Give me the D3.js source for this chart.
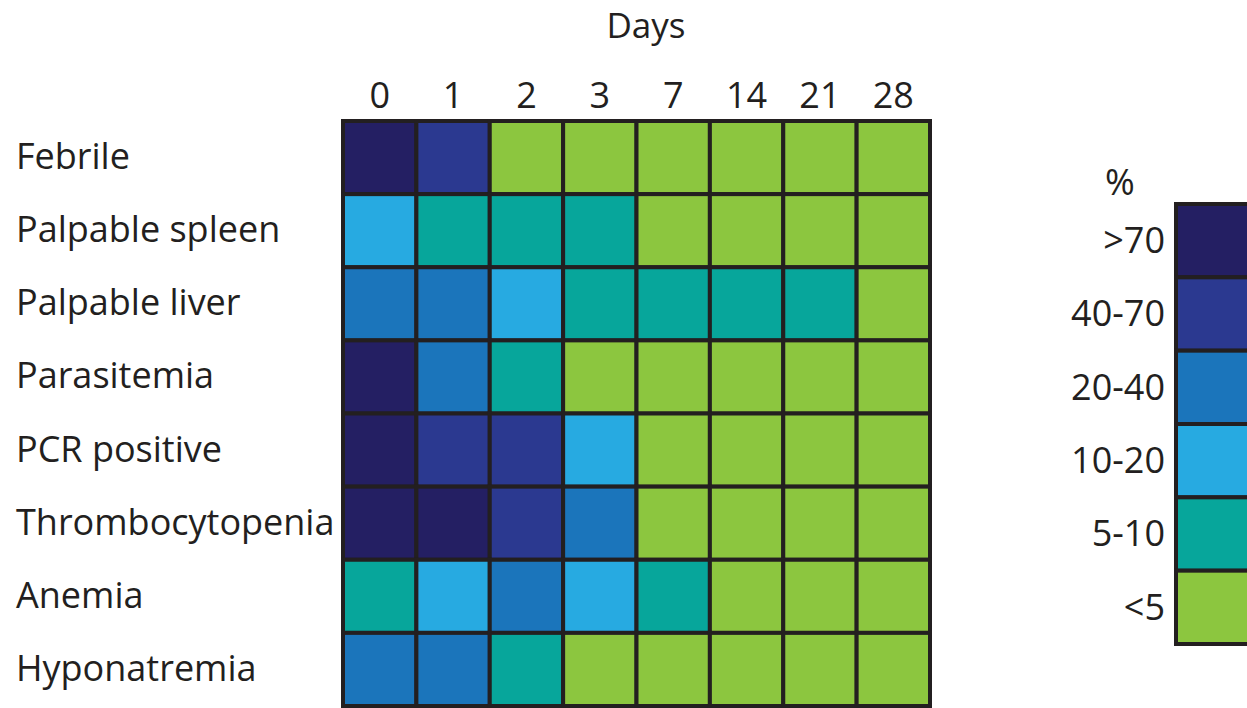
<!DOCTYPE html>
<html>
<head>
<meta charset="utf-8">
<script src="https://cdn.jsdelivr.net/npm/d3@7"></script>
<style>
  body { margin: 0; background: #fff; }
  svg text { font-family: "Open Sans", "Noto Sans", sans-serif; fill: #231f20; }
</style>
</head>
<body>
<div id="heat"></div>
<script>
// days on the x axis, symptoms on the y axis
const days = ["0", "1", "2", "3", "7", "14", "21", "28"];
const symptoms = ["Febrile", "Palpable spleen", "Palpable liver", "Parasitemia",
                  "PCR positive", "Thrombocytopenia", "Anemia", "Hyponatremia"];

// legend classes, from highest to lowest
const classes = [">70", "40-70", "20-40", "10-20", "5-10", "<5"];
const classColors = ["#241f63", "#2b3990", "#1b75bb", "#27aae1", "#07a69b", "#8cc63f"];

// one row per symptom, the class each day falls in
const febrile      = [">70", "40-70", "<5", "<5", "<5", "<5", "<5", "<5"];
const spleen       = ["10-20", "5-10", "5-10", "5-10", "<5", "<5", "<5", "<5"];
const liver        = ["20-40", "20-40", "10-20", "5-10", "5-10", "5-10", "5-10", "<5"];
const parasitemia  = [">70", "20-40", "5-10", "<5", "<5", "<5", "<5", "<5"];
const pcr          = [">70", "40-70", "40-70", "10-20", "<5", "<5", "<5", "<5"];
const thrombo      = [">70", ">70", "40-70", "20-40", "<5", "<5", "<5", "<5"];
const anemia       = ["5-10", "10-20", "20-40", "10-20", "5-10", "<5", "<5", "<5"];
const hyponatremia = ["20-40", "20-40", "5-10", "<5", "<5", "<5", "<5", "<5"];

const rows = [febrile, spleen, liver, parasitemia, pcr, thrombo, anemia, hyponatremia];

function init() {
    const width = 1247, height = 708;

    const svg = d3.select("#heat")
                  .append("svg")
                  .attr("width", width)
                  .attr("height", height);

    const x = d3.scaleBand().domain(days).range([343, 930]);
    const y = d3.scaleBand().domain(symptoms).range([121, 706]);
    const color = d3.scaleOrdinal().domain(classes).range(classColors);

    // flatten the rows into cells
    const cells = [];
    symptoms.forEach((s, i) => {
        days.forEach((d, j) => cells.push({ symptom: s, day: d, cls: rows[i][j] }));
    });

    svg.selectAll("rect.cell")
       .data(cells)
       .join("rect")
       .attr("class", "cell")
       .attr("x", d => x(d.day))
       .attr("y", d => y(d.symptom))
       .attr("width", x.bandwidth())
       .attr("height", y.bandwidth())
       .attr("fill", d => color(d.cls))
       .attr("stroke", "#231f20")
       .attr("stroke-width", 4);

    // day labels on top
    const xAxis = svg.append("g")
       .attr("transform", "translate(0,108)")
       .call(d3.axisTop(x).tickSize(0).tickPadding(0));
    xAxis.select(".domain").remove();
    xAxis.selectAll("text").style("font-size", "36px").attr("fill", "#231f20");

    svg.append("text")
       .attr("x", 646)
       .attr("y", 38)
       .attr("text-anchor", "middle")
       .style("font-size", "35px")
       .text("Days");

    // symptom labels, left aligned
    const yAxis = svg.append("g")
       .call(d3.axisLeft(y).tickSize(0));
    yAxis.select(".domain").remove();
    yAxis.selectAll("text")
         .attr("x", 16)
         .attr("text-anchor", "start")
         .attr("fill", "#231f20")
         .style("font-size", "36px");

    // legend
    const ly = d3.scaleBand().domain(classes).range([204, 644]);

    svg.append("text")
       .attr("x", 1120)
       .attr("y", 195)
       .attr("text-anchor", "middle")
       .style("font-size", "36px")
       .text("%");

    svg.selectAll("rect.key")
       .data(classes)
       .join("rect")
       .attr("class", "key")
       .attr("x", 1176)
       .attr("y", d => ly(d))
       .attr("width", 100)
       .attr("height", ly.bandwidth())
       .attr("fill", d => color(d))
       .attr("stroke", "#231f20")
       .attr("stroke-width", 4);

    svg.selectAll("text.keylabel")
       .data(classes)
       .join("text")
       .attr("class", "keylabel")
       .attr("x", 1165)
       .attr("y", d => ly(d) + ly.bandwidth() / 2)
       .attr("dy", "0.34em")
       .attr("text-anchor", "end")
       .style("font-size", "36px")
       .text(d => d);
}

window.onload = init;
</script>
</body>
</html>
